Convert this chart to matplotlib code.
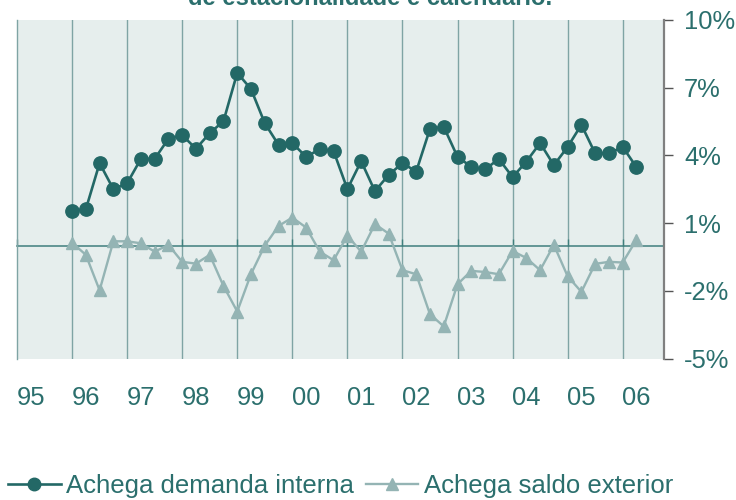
import matplotlib
matplotlib.use("Agg")
import matplotlib.pyplot as plt
import numpy as np

# ---- data (quarterly, 1996Q1 .. 2006Q2) ----
demanda_interna = [1.55, 1.62, 3.66, 2.51, 2.77, 3.85, 3.85, 4.74, 4.90, 4.30,
                   4.99, 5.52, 7.66, 6.94, 5.43, 4.47, 4.55, 3.94, 4.28, 4.19,
                   2.51, 3.75, 2.42, 3.14, 3.66, 3.29, 5.18, 5.27, 3.94, 3.50,
                   3.38, 3.85, 3.04, 3.73, 4.55, 3.57, 4.38, 5.36, 4.09, 4.09,
                   4.38, 3.48]
saldo_exterior = [0.14, -0.40, -1.97, 0.20, 0.20, 0.11, -0.26, 0.04, -0.71, -0.79,
                  -0.40, -1.78, -2.91, -1.25, 0.01, 0.88, 1.25, 0.81, -0.26, -0.64,
                  0.45, -0.26, 0.96, 0.54, -1.08, -1.26, -3.03, -3.57, -1.70, -1.11,
                  -1.16, -1.26, -0.23, -0.54, -1.08, 0.04, -1.35, -2.04, -0.80, -0.71,
                  -0.74, 0.27]
year_labels = ['95', '96', '97', '98', '99', '00', '01', '02', '03', '04', '05', '06']
y_ticks = [-5, -2, 1, 4, 7, 10]
series_names = ['Achega demanda interna', 'Achega saldo exterior']
title_text = 'de estacionalidade e calendario.'

# ---- style ----
DARK = '#236866'
LIGHT = '#94b4b4'
TEXT = '#2b6f6d'
BG = '#e6eeed'
GRID = '#7fa4a4'
ZERO = '#3f7f7d'
FONT = 'Liberation Sans'

plt.rcParams['font.family'] = [FONT, 'DejaVu Sans']

fig = plt.figure(figsize=(7.36, 5.0), dpi=100)
W, H = 736, 500
ax = fig.add_axes([17 / W, 1 - 358.7 / H, (664 - 17) / W, (358.7 - 20) / H])
ax.set_facecolor(BG)

n = len(demanda_interna)
x = np.arange(n)
# year boundaries (first quarter of each year), year 95 starts 4 quarters before data
boundaries = np.arange(-4, n, 4)
label_pos = boundaries + 1

ax.set_xlim(-4, n + 1)
ax.set_ylim(-5, 10)

ax.plot(x, demanda_interna, color=DARK, lw=1.9, marker='o', ms=9.6,
        zorder=4, label=series_names[0], clip_on=False)
ax.plot(x, saldo_exterior, color=LIGHT, lw=1.7, marker='^', ms=9.0,
        zorder=3, label=series_names[1], clip_on=False)

# vertical grid lines at year boundaries
for b in boundaries[1:]:
    ax.axvline(b, color=GRID, lw=1.0, zorder=1)

# zero line as the bottom spine with small ticks
ax.spines['bottom'].set_position(('data', 0))
ax.spines['bottom'].set_color(ZERO)
ax.spines['bottom'].set_linewidth(1.1)
ax.spines['bottom'].set_zorder(2)
ax.set_xticks(boundaries)
ax.set_xticklabels([])
ax.tick_params(axis='x', direction='in', length=5, width=1.0, color=ZERO)

ax.spines['top'].set_visible(False)
ax.spines['left'].set_color(GRID)
ax.spines['left'].set_linewidth(1.0)
ax.spines['right'].set_color('#808080')
ax.spines['right'].set_linewidth(1.6)

ax.yaxis.tick_right()
ax.set_yticks(y_ticks)
ax.set_yticklabels([f'{v}%' for v in y_ticks])
ax.tick_params(axis='y', direction='out', length=6.5, width=1.0, color='#555555',
               pad=8, labelsize=18.4, labelcolor=TEXT)

sec = ax.secondary_xaxis('bottom')
sec.set_xticks(label_pos)
sec.set_xticklabels(year_labels)
sec.tick_params(length=0, pad=19.5, labelsize=18.4, labelcolor=TEXT)
sec.spines['bottom'].set_visible(False)

fig.text(370 / W, 1 - 5 / H, title_text, ha='center', va='baseline',
         fontsize=17.1, fontweight='bold', color=TEXT)

leg = fig.legend(loc='center left', bbox_to_anchor=(8 / W, 1 - 486 / H), ncol=2,
                 frameon=False, fontsize=18.5, handlelength=2.05, handletextpad=0.22,
                 columnspacing=0.45, borderpad=0, borderaxespad=0, labelcolor=TEXT)
for h in leg.legend_handles:
    h.set_markersize(9)

fig.savefig('out.png', dpi=100)
